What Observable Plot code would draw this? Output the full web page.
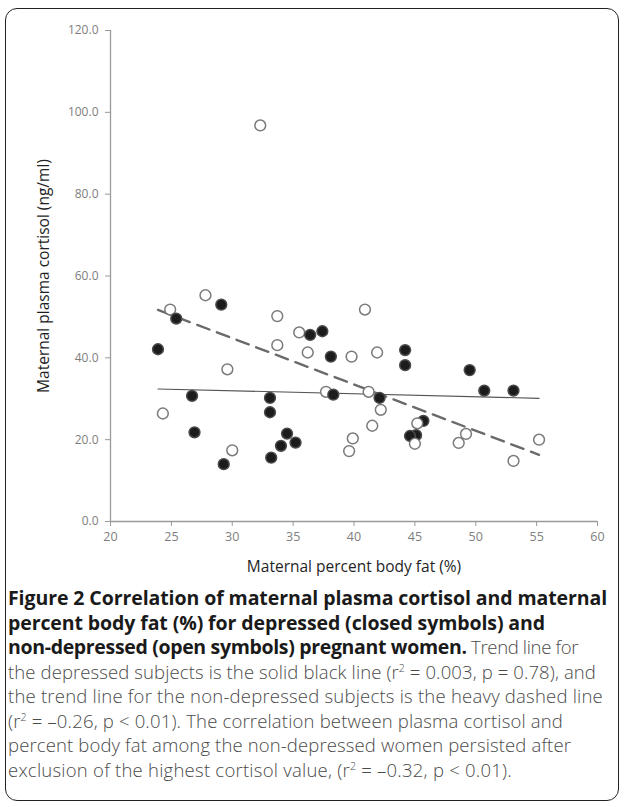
<!DOCTYPE html>
<html>
<head>
<meta charset="utf-8">
<script src="https://cdn.jsdelivr.net/npm/d3@7"></script>
<script src="https://cdn.jsdelivr.net/npm/@observablehq/plot@0.6"></script>
<style>
  html, body { margin: 0; padding: 0; background: #fff; }
  body { width: 624px; height: 807px; position: relative; overflow: hidden; font-family: "Open Sans", Lato, sans-serif; }
  #box { position: absolute; left: 5px; top: 8px; width: 612px; height: 791px; border: 1.5px solid #222; border-radius: 12px; }
  #chart { position: absolute; left: 0; top: 0; }
  #caption { position: absolute; left: 8px; top: 586px; width: 612px; font-size: 18.5px; line-height: 24.5px; color: #4a4a4a; white-space: nowrap; font-weight: 300; }
  #caption .ln { display: inline-block; }
  #caption b { color: #1a1a1a; font-weight: 700; font-size: 19.5px; }
  #caption sup { font-size: 10.5px; line-height: 0; vertical-align: 7px; }
</style>
</head>
<body>
<div id="box"></div>
<div id="chart"></div>
<div id="caption">
<span class="ln"><b>Figure 2 Correlation of maternal plasma cortisol and maternal</b></span><br>
<span class="ln"><b>percent body fat (%) for depressed (closed symbols) and</b></span><br>
<span class="ln"><b>non-depressed (open symbols) pregnant women.</b> Trend line for</span><br>
<span class="ln">the depressed subjects is the solid black line (r<sup>2</sup> = 0.003, p = 0.78), and</span><br>
<span class="ln">the trend line for the non-depressed subjects is the heavy dashed line</span><br>
<span class="ln">(r<sup>2</sup> = –0.26, p &lt; 0.01). The correlation between plasma cortisol and</span><br>
<span class="ln">percent body fat among the non-depressed women persisted after</span><br>
<span class="ln">exclusion of the highest cortisol value, (r<sup>2</sup> = –0.32, p &lt; 0.01).</span>
</div>
<script>
// Depressed subjects (closed symbols)
const depressedFat = [23.9, 25.4, 26.7, 26.9, 29.1, 29.3, 33.1, 33.1, 33.2, 34.0, 34.5, 35.2, 36.4, 37.4, 38.1, 38.3, 42.1, 44.2, 44.2, 44.6, 45.1, 45.7, 49.5, 50.7, 53.1];
const depressedCortisol = [42.1, 49.6, 30.7, 21.8, 53.0, 14.0, 30.2, 26.7, 15.6, 18.5, 21.5, 19.3, 45.6, 46.5, 40.3, 31.0, 30.2, 41.9, 38.2, 20.9, 21.1, 24.6, 37.0, 32.0, 32.0];
// Non-depressed subjects (open symbols)
const nonDepFat = [24.3, 24.9, 27.8, 29.6, 30.0, 32.3, 33.7, 33.7, 35.5, 36.2, 37.7, 39.6, 39.8, 39.9, 40.9, 41.2, 41.5, 41.9, 42.2, 45.0, 45.2, 48.6, 49.2, 53.1, 55.2];
const nonDepCortisol = [26.4, 51.8, 55.3, 37.2, 17.4, 96.8, 50.2, 43.1, 46.2, 41.3, 31.7, 17.2, 40.3, 20.3, 51.8, 31.7, 23.4, 41.3, 27.3, 19.0, 24.0, 19.2, 21.4, 14.8, 20.0];
// Trend lines (endpoints)
const solidTrendFat = [23.9, 55.2];
const solidTrendCortisol = [32.4, 30.1];
const dashedTrendFat = [23.9, 55.2];
const dashedTrendCortisol = [51.7, 16.3];
// Axis ticks
const xTicks = [20, 25, 30, 35, 40, 45, 50, 55, 60];
const yTicks = [0, 20, 40, 60, 80, 100, 120];

const rows = d3.sort([
  ...depressedFat.map((f, i) => ({fat: f, cortisol: depressedCortisol[i], group: "depressed"})),
  ...nonDepFat.map((f, i) => ({fat: f, cortisol: nonDepCortisol[i], group: "non-depressed"}))
], d => -d.cortisol);

const solid = solidTrendFat.map((f, i) => ({fat: f, cortisol: solidTrendCortisol[i]}));
const dashed = dashedTrendFat.map((f, i) => ({fat: f, cortisol: dashedTrendCortisol[i]}));

const axisColor = "#9a9a9a";
const chart = Plot.plot({
  width: 624,
  height: 590,
  marginLeft: 110,
  marginRight: 27,
  marginTop: 30,
  marginBottom: 69,
  style: {fontFamily: "'Open Sans', Lato, sans-serif", background: "transparent", overflow: "visible"},
  x: {domain: [20, 60]},
  y: {domain: [0, 120]},
  marks: [
    Plot.axisY({ticks: yTicks, tickFormat: d => d.toFixed(1), tickSize: 5, tickPadding: 7, stroke: axisColor, color: "#7e7e7e", fontSize: 12,
      label: "Maternal plasma cortisol (ng/ml)", labelAnchor: "center", labelOffset: 73, labelArrow: "none"}),
    Plot.axisX({ticks: xTicks, tickSize: 5, tickPadding: 6, stroke: axisColor, color: "#7e7e7e", fontSize: 12.5,
      label: "Maternal percent body fat (%)", labelAnchor: "center", labelOffset: 50, labelArrow: "none"}),
    Plot.ruleX([20], {stroke: axisColor, strokeWidth: 1.3}),
    Plot.ruleY([0], {stroke: axisColor, strokeWidth: 1.3}),
    Plot.line(solid, {x: "fat", y: "cortisol", stroke: "#555", strokeWidth: 1.1}),
    Plot.line(dashed, {x: "fat", y: "cortisol", stroke: "#6a6a6a", strokeWidth: 2.4, strokeDasharray: "13,8"}),
    Plot.dot(rows, {x: "fat", y: "cortisol", r: 5.4,
      fill: d => d.group === "depressed" ? "#1c1c1c" : "white",
      stroke: d => d.group === "depressed" ? "#4a4a4a" : "#7a7a7a",
      strokeWidth: 1.5})
  ]
});
chart.querySelectorAll('[aria-label="y-axis label"], [aria-label="x-axis label"]').forEach(g => {
  g.setAttribute("fill", "#1f1f1f");
  g.setAttribute("font-size", "15.5");
});
document.getElementById("chart").appendChild(chart);

// fit each caption line to the right edge it reaches in the reference
const captionRightEdges = [607, 545, 578, 596, 603, 563, 571, 512];
document.querySelectorAll("#caption .ln").forEach((el, i) => {
  const left = el.getBoundingClientRect().left;
  const w = el.getBoundingClientRect().width;
  const n = el.textContent.length;
  const target = captionRightEdges[i] - left;
  el.style.letterSpacing = ((target - w) / n).toFixed(3) + "px";
});
</script>
</body>
</html>
